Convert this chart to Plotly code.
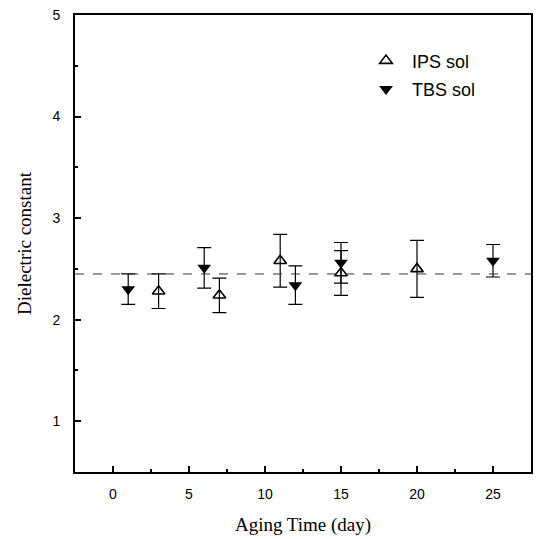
import plotly.graph_objects as go

# Data
ips_day = [3, 7, 11, 15, 20]
ips_val = [2.28, 2.24, 2.58, 2.46, 2.50]
ips_err = [0.17, 0.17, 0.26, 0.22, 0.28]

tbs_day = [1, 6, 12, 15, 25]
tbs_val = [2.30, 2.51, 2.34, 2.56, 2.58]
tbs_err = [0.15, 0.20, 0.19, 0.20, 0.16]

reference_level = 2.45

x_ticks = [0, 5, 10, 15, 20, 25]
y_ticks = [1, 2, 3, 4, 5]

fig = go.Figure()

fig.add_trace(go.Scatter(
    x=ips_day, y=ips_val, mode="markers", name="IPS sol",
    legendgroup="ips",
    marker=dict(symbol="triangle-up-open", size=11, color="black",
                line=dict(width=1.6, color="black")),
    error_y=dict(type="data", array=ips_err, visible=True,
                 color="black", thickness=1.2, width=7),
))
fig.add_trace(go.Scatter(
    x=tbs_day, y=tbs_val, mode="markers", name="TBS sol",
    legendgroup="tbs",
    marker=dict(symbol="triangle-down", size=12, color="black"),
    error_y=dict(type="data", array=tbs_err, visible=True,
                 color="black", thickness=1.2, width=7),
))

fig.add_hline(y=reference_level, line=dict(color="#333333", width=1, dash="dash"))

fig.update_layout(
    width=540, height=539,
    margin=dict(l=75, r=7, t=8, b=67),
    paper_bgcolor="white", plot_bgcolor="white",
    showlegend=True,
    legend=dict(x=0.625, y=0.94, xanchor="left", yanchor="top",
                font=dict(family="Liberation Sans, Arial", size=18, color="black"),
                bgcolor="rgba(0,0,0,0)", tracegroupgap=2, itemwidth=42,
                traceorder="grouped"),
    font=dict(family="Liberation Sans, Arial", color="black"),
)

fig.update_xaxes(
    range=[-2.5, 27.5], tickvals=x_ticks, ticks="inside", ticklen=6,
    tickwidth=1.5, tickcolor="black", ticklabelstandoff=8,
    minor=dict(dtick=2.5, tick0=0, ticks="inside", ticklen=3, tickcolor="black"),
    showline=True, linecolor="black", linewidth=2, mirror=True,
    showgrid=False, zeroline=False,
    tickfont=dict(family="Liberation Sans, Arial", size=14),
    title=dict(text="Aging Time (day)", font=dict(family="Liberation Serif, Times New Roman", size=19),
               standoff=17),
)
fig.update_yaxes(
    range=[0.5, 5.0], tickvals=y_ticks, ticks="inside", ticklen=6,
    tickwidth=1.5, tickcolor="black", ticklabelstandoff=10,
    minor=dict(dtick=0.5, tick0=0, ticks="inside", ticklen=3, tickcolor="black"),
    showline=True, linecolor="black", linewidth=2, mirror=True,
    showgrid=False, zeroline=False,
    tickfont=dict(family="Liberation Sans, Arial", size=14),
    title=dict(text="Dielectric constant", font=dict(family="Liberation Serif, Times New Roman", size=19),
               standoff=16),
)

fig.write_html("out.html")
